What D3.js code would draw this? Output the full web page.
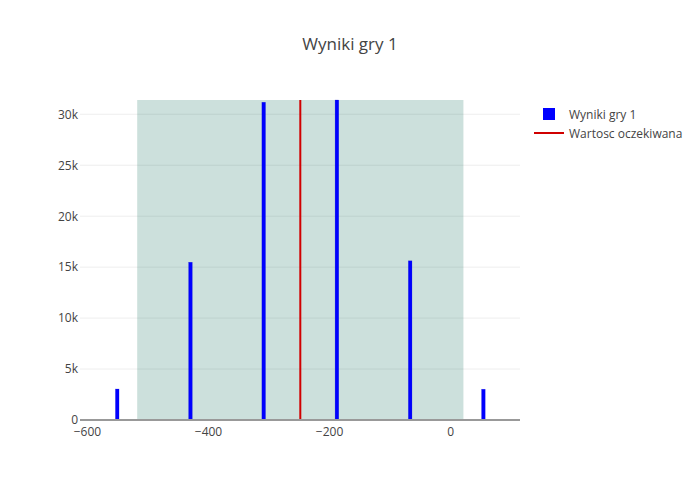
<!DOCTYPE html>
<meta charset="utf-8">
<script src="https://d3js.org/d3.v7.min.js"></script>
<style>
  body { margin: 0; background: #fff; }
  text { font-family: "Open Sans", sans-serif; fill: #444; }
</style>
<div id="chart"></div>
<script>

// data
var wyniki = [-550, -429, -308, -187, -66, 55]
var liczba = [3040, 15480, 31180, 31400, 15620, 3020]
var oczekiwana = -247.5
var pasmo = [-517, 22]          // shaded band (mean +/- std)
var xTicks = [-600, -400, -200, 0]
var yTicks = [0, 5000, 10000, 15000, 20000, 25000, 30000]

var width = 700,
    height = 500,
    margin = {top: 100, right: 180, bottom: 80, left: 80}

var svg = d3.select("#chart")
  .append("svg")
    .attr("width", width)
    .attr("height", height)

var x = d3.scaleLinear()
  .domain([-611.5, 115.5])
  .range([margin.left, width - margin.right])

var y = d3.scaleLinear()
  .domain([0, 31400])
  .range([height - margin.bottom, margin.top])

// grid lines
svg.append("g")
  .selectAll("line")
  .data(yTicks.slice(1))
  .enter()
  .append("line")
    .attr("x1", margin.left)
    .attr("x2", width - margin.right)
    .attr("y1", function(d) { return y(d) })
    .attr("y2", function(d) { return y(d) })
    .attr("stroke", "#eee")
    .attr("stroke-width", 1)

// shaded band
svg.append("rect")
  .attr("x", x(pasmo[0]))
  .attr("width", x(pasmo[1]) - x(pasmo[0]))
  .attr("y", y(31400))
  .attr("height", y(0) - y(31400))
  .attr("fill", "rgb(0,100,80)")
  .attr("fill-opacity", 0.2)

// bars
var barW = 6
svg.append("g")
  .selectAll("rect")
  .data(wyniki)
  .enter()
  .append("rect")
    .attr("x", function(d) { return x(d - barW / 2) })
    .attr("width", x(barW) - x(0))
    .attr("y", function(d, i) { return y(liczba[i]) })
    .attr("height", function(d, i) { return y(0) - y(liczba[i]) })
    .attr("fill", "#0000ff")
    .attr("stroke", "rgba(0,0,200,0.4)")
    .attr("stroke-width", 0.5)

// expected value line
svg.append("line")
  .attr("x1", x(oczekiwana))
  .attr("x2", x(oczekiwana))
  .attr("y1", y(0))
  .attr("y2", y(31400))
  .attr("stroke", "#d00000")
  .attr("stroke-width", 2)

// zero line
svg.append("line")
  .attr("x1", margin.left)
  .attr("x2", width - margin.right)
  .attr("y1", y(0))
  .attr("y2", y(0))
  .attr("stroke", "#999")
  .attr("stroke-width", 2)

// axes
var fmtX = function(d) { return d < 0 ? "\u2212" + Math.abs(d) : d }
var xAxis = svg.append("g")
  .attr("transform", "translate(0," + y(0) + ")")
  .call(d3.axisBottom(x).tickValues(xTicks).tickFormat(fmtX).tickSize(0).tickPadding(7))
xAxis.select(".domain").remove()
xAxis.selectAll("text").style("font-size", "12px").attr("fill", "#444")

var yAxis = svg.append("g")
  .attr("transform", "translate(" + margin.left + ",0)")
  .call(d3.axisLeft(y).tickValues(yTicks)
    .tickFormat(function(d) { return d == 0 ? "0" : (d / 1000) + "k" })
    .tickSize(0).tickPadding(2))
yAxis.select(".domain").remove()
yAxis.selectAll("text").style("font-size", "12px").attr("fill", "#444")

// title
svg.append("text")
  .attr("x", width / 2)
  .attr("y", 50)
  .attr("text-anchor", "middle")
  .style("font-size", "17px")
  .text("Wyniki gry 1")

// legend
var legend = svg.append("g")
legend.append("rect")
  .attr("x", 543).attr("y", 108)
  .attr("width", 12).attr("height", 12)
  .attr("fill", "#0000ff")
legend.append("text")
  .attr("x", 569).attr("y", 118.5)
  .style("font-size", "12px")
  .text("Wyniki gry 1")
legend.append("line")
  .attr("x1", 534).attr("x2", 564)
  .attr("y1", 133).attr("y2", 133)
  .attr("stroke", "#d00000")
  .attr("stroke-width", 2)
legend.append("text")
  .attr("x", 569).attr("y", 137.5)
  .style("font-size", "12px")
  .text("Wartosc oczekiwana")

</script>
